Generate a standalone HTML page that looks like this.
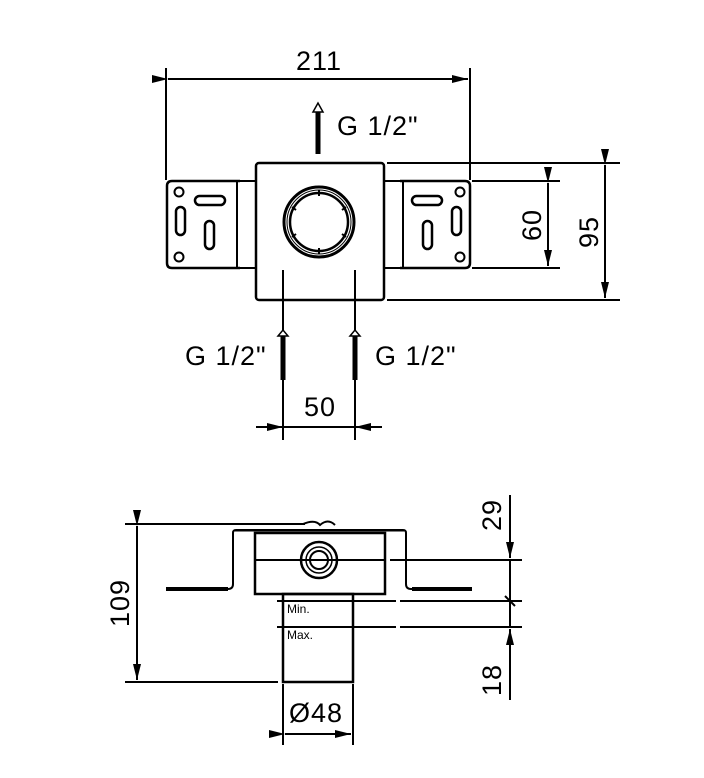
<!DOCTYPE html>
<html><head><style>body{margin:0;background:#fff}svg{display:block}text{font-family:"Liberation Sans",Arial,sans-serif;fill:#000}</style></head><body>
<svg width="704" height="778" viewBox="0 0 704 778" xmlns="http://www.w3.org/2000/svg">
<defs>
<marker id="a" markerWidth="16" markerHeight="10" refX="16" refY="5" orient="auto" markerUnits="userSpaceOnUse"><path d="M0,1 L16,5 L0,9 Z" fill="#000"/></marker>
</defs>
<g stroke="#000" fill="none" stroke-width="2">
<line x1="166" y1="68" x2="166" y2="180"/><line x1="470" y1="68" x2="470" y2="180"/>
<line x1="168" y1="79" x2="468" y2="79" marker-start="url(#a)" marker-end="url(#a)"/>
<line x1="318" y1="112" x2="318" y2="154" stroke-width="5"/>
<path d="M313,112 L318,103 L323,112 Z" stroke-width="1.5" fill="#fff"/>
<rect x="256" y="163" width="128" height="137" rx="3" stroke-width="2.5"/>
<path d="M240,181 L172,181 Q167,181 167,186 L167,263 Q167,268 172,268 L240,268" stroke-width="2.5"/>
<line x1="237" y1="181" x2="237" y2="268"/>
<line x1="240" y1="181" x2="256" y2="181"/><line x1="240" y1="268" x2="256" y2="268"/>
<circle cx="179" cy="192" r="4.5"/><circle cx="179" cy="257" r="4.5"/>
<rect x="195" y="196" width="30" height="9" rx="4.5" stroke-width="2.5"/>
<rect x="176" y="207" width="9" height="28" rx="4.5" stroke-width="2.5"/>
<rect x="205" y="221" width="9" height="28" rx="4.5" stroke-width="2.5"/>
<path d="M400,181 L465,181 Q470,181 470,186 L470,263 Q470,268 465,268 L400,268" stroke-width="2.5"/>
<line x1="403" y1="181" x2="403" y2="268"/>
<line x1="384" y1="181" x2="400" y2="181"/><line x1="384" y1="268" x2="400" y2="268"/>
<circle cx="460" cy="192" r="4.5"/><circle cx="460" cy="257" r="4.5"/>
<rect x="412" y="196" width="30" height="9" rx="4.5" stroke-width="2.5"/>
<rect x="452" y="207" width="9" height="28" rx="4.5" stroke-width="2.5"/>
<rect x="423" y="221" width="9" height="28" rx="4.5" stroke-width="2.5"/>
<circle cx="319" cy="222" r="35" stroke-width="3"/>
<circle cx="319" cy="222" r="32" stroke-width="1"/>
<circle cx="319" cy="222" r="29" stroke-width="2.5"/>
<g stroke-width="2"><line x1="319" y1="190" x2="319" y2="196"/><line x1="319" y1="248" x2="319" y2="254"/><line x1="292" y1="207" x2="296" y2="210"/><line x1="346" y1="207" x2="342" y2="210"/><line x1="292" y1="237" x2="296" y2="234"/><line x1="346" y1="237" x2="342" y2="234"/></g>
<line x1="387" y1="163" x2="620" y2="163"/><line x1="387" y1="300" x2="620" y2="300"/>
<line x1="472" y1="181" x2="560" y2="181"/><line x1="472" y1="268" x2="560" y2="268"/>
<line x1="548" y1="183" x2="548" y2="266" marker-start="url(#a)" marker-end="url(#a)"/>
<line x1="605" y1="165" x2="605" y2="298" marker-start="url(#a)" marker-end="url(#a)"/>
<line x1="283" y1="270" x2="283" y2="440"/><line x1="355" y1="270" x2="355" y2="440"/>
<line x1="283" y1="336" x2="283" y2="380" stroke-width="5"/><line x1="355" y1="336" x2="355" y2="380" stroke-width="5"/>
<path d="M278,336 L283,330 L288,336 Z" stroke-width="1.5" fill="#fff"/>
<path d="M350,336 L355,330 L360,336 Z" stroke-width="1.5" fill="#fff"/>
<line x1="256" y1="427" x2="283" y2="427" marker-end="url(#a)"/>
<line x1="283" y1="427" x2="355" y2="427"/>
<line x1="382" y1="427" x2="355" y2="427" marker-end="url(#a)"/>

<line x1="125" y1="524" x2="305" y2="524"/>
<line x1="137" y1="526" x2="137" y2="680" marker-start="url(#a)" marker-end="url(#a)"/>
<line x1="125" y1="682" x2="278" y2="682"/>
<path d="M166,589 L228,589 Q233,589 233,584 L233,533 Q233,530 236,530 L403,530 Q406,530 406,533 L406,584 Q406,589 411,589 L472,589" stroke-width="2"/>
<line x1="166" y1="589" x2="228" y2="589" stroke-width="4"/>
<line x1="412" y1="589" x2="472" y2="589" stroke-width="4"/>
<path d="M235,531 L404,531" stroke-width="1"/>
<path d="M303,524 Q315,519 320,525 Q328,518 335,525" stroke-width="2"/>
<rect x="255" y="533" width="130" height="61" stroke-width="2.5"/>
<line x1="255" y1="560" x2="385" y2="560"/>
<circle cx="319" cy="560" r="18" stroke-width="2.5"/><circle cx="319" cy="560" r="13" stroke-width="1.5"/><circle cx="319" cy="560" r="9" stroke-width="2"/>
<line x1="390" y1="560" x2="522" y2="560"/>
<rect x="283" y="594" width="70" height="88" stroke-width="2.5"/>
<line x1="277" y1="601" x2="396" y2="601"/><line x1="400" y1="601" x2="522" y2="601"/>
<line x1="277" y1="627" x2="396" y2="627"/><line x1="400" y1="627" x2="522" y2="627"/>
<line x1="510" y1="495" x2="510" y2="558" marker-end="url(#a)"/>
<line x1="510" y1="560" x2="510" y2="627"/>
<line x1="505" y1="596" x2="515" y2="606"/>
<line x1="510" y1="700" x2="510" y2="629" marker-end="url(#a)"/>
<line x1="283" y1="684" x2="283" y2="745"/><line x1="353" y1="684" x2="353" y2="745"/>
<line x1="285" y1="734" x2="351" y2="734" marker-start="url(#a)" marker-end="url(#a)"/>
</g>
<g font-size="27" letter-spacing="1">
<text x="319" y="70" text-anchor="middle">211</text>
<text x="337" y="135">G 1/2"</text>
<text x="185" y="365">G 1/2"</text>
<text x="375" y="365">G 1/2"</text>
<text x="320" y="416" text-anchor="middle">50</text>
<text transform="translate(541,225) rotate(-90)" text-anchor="middle">60</text>
<text transform="translate(598,232) rotate(-90)" text-anchor="middle">95</text>
<text transform="translate(129,603) rotate(-90)" text-anchor="middle">109</text>
<text transform="translate(501,515) rotate(-90)" text-anchor="middle">29</text>
<text transform="translate(501,680) rotate(-90)" text-anchor="middle">18</text>
<text x="316" y="722" text-anchor="middle">Ø48</text>
</g>
<text x="287" y="613" font-size="12">Min.</text>
<text x="287" y="639" font-size="12">Max.</text>
</svg>
</body></html>
